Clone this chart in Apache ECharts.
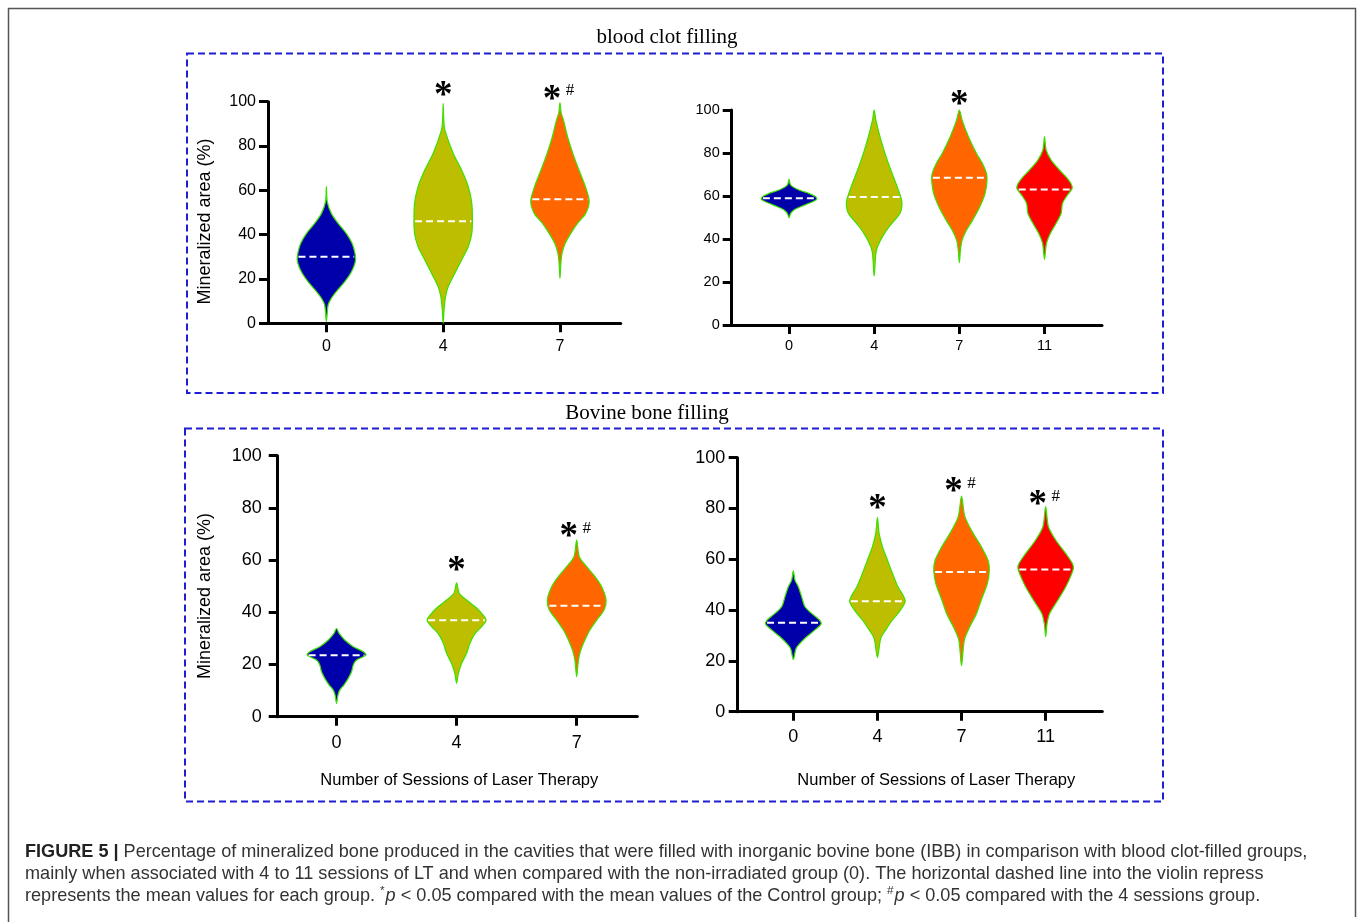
<!DOCTYPE html>
<html>
<head>
<meta charset="utf-8">
<script src="https://cdn.jsdelivr.net/npm/echarts@6/dist/echarts.min.js"></script>
<style>
html, body { margin: 0; padding: 0; background: #fff; }
#chart { width: 1358px; height: 922px; }
</style>
</head>
<body>
<div id="chart"></div>
<script>
// categories (number of laser sessions)
const catsShort = ['0', '4', '7'];
const catsLong = ['0', '4', '7', '11'];

// violin outlines: [value, relative half width], from top tip to bottom tip
const clotShortProfiles = [
    [[61.7, 0], [54.9, 0.03], [49.6, 0.17], [45.1, 0.4], [40.6, 0.68], [36.1, 0.88], [31.6, 0.98], [28.6, 1], [25.6, 0.94], [22.6, 0.83], [18.8, 0.63], [14.3, 0.34], [11.3, 0.17], [8.3, 0.06], [0.8, 0]],
    [[99.2, 0], [91.7, 0.02], [87.2, 0.06], [76.7, 0.34], [69.2, 0.63], [61.7, 0.86], [54.1, 0.98], [46.6, 1], [40.6, 0.98], [34.6, 0.86], [28.6, 0.63], [22.6, 0.4], [16.5, 0.17], [12, 0.08], [6, 0.03], [0, 0]],
    [[99.5, 0], [95, 0.04], [91.7, 0.12], [84.2, 0.26], [76.7, 0.44], [69.2, 0.65], [61.7, 0.87], [55, 1], [49.6, 0.88], [45.1, 0.6], [40.6, 0.37], [36.1, 0.18], [31.6, 0.07], [27, 0.03], [20.3, 0]]
];
const clotShortMeans = [30, 46, 56];
const clotShortMarks = ['', '*', '*#'];
const clotShortMarkY = [0, 105.3, 103.5];

const clotLongProfiles = [
    [[67.8, 0], [65.1, 0.06], [62.8, 0.36], [61.2, 0.72], [59.7, 0.96], [58.4, 1], [56.6, 0.72], [55, 0.42], [53.5, 0.18], [51.9, 0.06], [49.9, 0]],
    [[100, 0], [95.3, 0.06], [87.6, 0.21], [79.8, 0.39], [72.1, 0.6], [64.3, 0.83], [58.1, 0.99], [55, 1], [51.9, 0.93], [48.8, 0.74], [45.7, 0.54], [41.1, 0.3], [36.4, 0.12], [33.3, 0.06], [22.8, 0]],
    [[100, 0], [95.3, 0.1], [87.6, 0.33], [79.8, 0.62], [75.2, 0.83], [70.5, 0.98], [67.4, 1], [61.2, 0.93], [55, 0.74], [48.8, 0.48], [44.2, 0.26], [39.5, 0.1], [34.9, 0.04], [29, 0]],
    [[87.6, 0], [81.4, 0.06], [76.7, 0.24], [72.1, 0.54], [69, 0.77], [65.9, 0.95], [63.6, 1], [60.5, 0.83], [56.6, 0.65], [51.9, 0.6], [47.3, 0.42], [42.6, 0.21], [38, 0.07], [30.5, 0]]
];
const clotLongMeans = [59, 59.5, 68.5, 63];
const clotLongMarks = ['', '', '*', ''];
const clotLongMarkY = [0, 0, 104.7, 0];

const boneShortProfiles = [
    [[33.8, 0], [31.9, 0.09], [29.4, 0.28], [26.8, 0.57], [24.9, 0.91], [23.6, 1], [21.7, 0.68], [19.8, 0.57], [17.2, 0.51], [14.7, 0.4], [12.1, 0.25], [10.2, 0.11], [8.3, 0.05], [5.1, 0]],
    [[51.3, 0], [47.3, 0.09], [44.7, 0.34], [42.1, 0.63], [39.6, 0.85], [37, 1], [34.5, 0.85], [31.9, 0.63], [28.1, 0.45], [24.3, 0.34], [20.4, 0.17], [16.6, 0.06], [12.8, 0]],
    [[67.7, 0], [61.3, 0.09], [57.5, 0.34], [53.6, 0.63], [49.8, 0.85], [44.7, 1], [40.9, 0.93], [37, 0.68], [33.2, 0.45], [29.4, 0.28], [25.5, 0.14], [21.7, 0.06], [15.3, 0]]
];
const boneShortMeans = [23.5, 37, 42.5];
const boneShortMarks = ['', '*', '*#'];
const boneShortMarkY = [0, 58.1, 70.9];

const boneLongProfiles = [
    [[55.5, 0], [51.8, 0.06], [49.2, 0.18], [45.3, 0.3], [41.3, 0.42], [38.7, 0.66], [36.1, 0.94], [34.5, 1], [32.2, 0.78], [29.5, 0.48], [26.9, 0.24], [24.9, 0.1], [20.6, 0]],
    [[76.5, 0], [70.2, 0.06], [65, 0.18], [59.7, 0.36], [54.5, 0.54], [49.2, 0.74], [45.3, 0.95], [43.3, 1], [40, 0.83], [36.1, 0.54], [32.2, 0.3], [28.9, 0.12], [21.3, 0]],
    [[84.9, 0], [76.8, 0.12], [70.2, 0.42], [65, 0.71], [59.7, 0.95], [55.8, 1], [50.5, 0.93], [44, 0.71], [38.7, 0.54], [33.5, 0.3], [28.2, 0.1], [18.1, 0]],
    [[80.7, 0], [72.8, 0.1], [67.6, 0.36], [62.3, 0.72], [58.4, 0.96], [56.4, 1], [51.8, 0.84], [47.9, 0.66], [42.6, 0.36], [38.7, 0.14], [34.8, 0.05], [29.5, 0]]
];
const boneLongMeans = [35, 43.5, 55, 56];
const boneLongMarks = ['', '*', '*#', '*#'];
const boneLongMarkY = [0, 81.8, 88.5, 83.7];

const yTicks = [0, 20, 40, 60, 80, 100];

const captionBold = 'FIGURE 5 |';
const captionLine1 = ' Percentage of mineralized bone produced in the cavities that were filled with inorganic bovine bone (IBB) in comparison with blood clot-filled groups,';
const captionLine2 = 'mainly when associated with 4 to 11 sessions of LT and when compared with the non-irradiated group (0). The horizontal dashed line into the violin repress';
const captionLine3a = 'represents the mean values for each group. ';
const captionLine3b = ' < 0.05 compared with the mean values of the Control group; ';
const captionLine3c = ' < 0.05 compared with the 4 sessions group.';

const violinColors = ['#0000AA', '#BDBE00', '#FF6600', '#FF0000'];
const outline = '#3CE000';
const sans = '"Liberation Sans", Arial, sans-serif';
const serif = '"Liberation Serif", "Times New Roman", serif';

const panels = [
    { cats: catsShort, profiles: clotShortProfiles, means: clotShortMeans, marks: clotShortMarks, markY: clotShortMarkY,
      grid: { left: 268, top: 101.7, width: 352.7, height: 221.6 }, xMin: -0.5, xMax: 2.52, halfW: 0.25, fs: 16, yMargin: 12, xMargin: 15 },
    { cats: catsLong, profiles: clotLongProfiles, means: clotLongMeans, marks: clotLongMarks, markY: clotLongMarkY,
      grid: { left: 731.7, top: 110, width: 370.3, height: 215 }, xMin: -0.673, xMax: 3.675, halfW: 0.325, fs: 14.5, yMargin: 12, xMargin: 13 },
    { cats: catsShort, profiles: boneShortProfiles, means: boneShortMeans, marks: boneShortMarks, markY: boneShortMarkY,
      grid: { left: 277.7, top: 455.7, width: 359.6, height: 261 }, xMin: -0.49, xMax: 2.505, halfW: 0.245, fs: 18, yMargin: 16, xMargin: 17 },
    { cats: catsLong, profiles: boneLongProfiles, means: boneLongMeans, marks: boneLongMarks, markY: boneLongMarkY,
      grid: { left: 737.7, top: 457.7, width: 364.6, height: 254 }, xMin: -0.661, xMax: 3.673, halfW: 0.33, fs: 18, yMargin: 12.5, xMargin: 16 }
];

function widthAt(prof, v) {
    for (let i = 0; i < prof.length - 1; i++) {
        const a = prof[i], b = prof[i + 1];
        if (v <= a[0] && v >= b[0]) {
            const t = (a[0] - v) / (a[0] - b[0]);
            return a[1] + (b[1] - a[1]) * t;
        }
    }
    return 0;
}

function makeRender(p) {
    return function (params, api) {
        const k = api.value(0);
        const prof = p.profiles[k];
        const hw = api.size([p.halfW, 0])[0];
        const cx = api.coord([k, 0])[0];
        const right = prof.map(d => [cx + d[1] * hw, api.coord([k, d[0]])[1]]);
        const left = prof.slice(1, -1).reverse().map(d => [cx - d[1] * hw, api.coord([k, d[0]])[1]]);
        const ym = api.coord([k, p.means[k]])[1];
        const wm = widthAt(prof, p.means[k]) * hw;
        const children = [
            { type: 'polygon', shape: { points: right.concat(left), smooth: 0.3 },
              style: { fill: violinColors[k], stroke: outline, lineWidth: 1.2 } },
            { type: 'line', shape: { x1: cx - wm + 1, y1: ym, x2: cx + wm - 1, y2: ym },
              style: { stroke: '#fff', lineWidth: 2, lineDash: [7, 4] } }
        ];
        const m = p.marks[k];
        if (m) {
            const y = api.coord([k, p.markY[k]])[1];
            const starX = m === '*' ? cx : cx - 8;
            children.push({ type: 'text', style: { text: '*', x: starX, y: y + 6, align: 'center', verticalAlign: 'middle',
                font: 'bold 37px ' + serif, fill: '#000' } });
            if (m.indexOf('#') >= 0) {
                children.push({ type: 'text', style: { text: '#', x: cx + 10, y: y - 3, align: 'center', verticalAlign: 'middle',
                    font: '17px ' + serif, fill: '#000' } });
            }
        }
        return { type: 'group', children: children };
    };
}

const grids = [], xAxes = [], yAxes = [], series = [];
panels.forEach((p, i) => {
    grids.push(p.grid);
    const idx = p.cats.map((c, k) => k);
    xAxes.push({
        type: 'value', gridIndex: i, min: p.xMin, max: p.xMax,
        splitLine: { show: false },
        axisLine: { show: true, onZero: false, lineStyle: { color: '#000', width: 3 } },
        axisTick: { show: true, customValues: idx, length: 9, lineStyle: { color: '#000', width: 3 } },
        axisLabel: { customValues: idx, formatter: v => p.cats[Math.round(v)], color: '#000',
            fontSize: p.fs, fontFamily: sans, margin: p.xMargin }
    });
    yAxes.push({
        type: 'value', gridIndex: i, min: 0, max: 100, interval: 20,
        splitLine: { show: false },
        axisLine: { show: true, onZero: false, lineStyle: { color: '#000', width: 3 } },
        axisTick: { show: true, length: 9, lineStyle: { color: '#000', width: 3 } },
        axisLabel: { color: '#000', fontSize: p.fs, fontFamily: sans, margin: p.yMargin,
            formatter: v => yTicks.indexOf(v) >= 0 ? String(v) : '' }
    });
    series.push({
        type: 'custom', xAxisIndex: i, yAxisIndex: i, clip: false,
        data: p.means.map((m, k) => [k, m]),
        renderItem: makeRender(p)
    });
});

// caption font size fitted to the first line's width
const ctx = document.createElement('canvas').getContext('2d');
ctx.font = 'bold 100px ' + sans;
let capW = ctx.measureText(captionBold).width;
ctx.font = '100px ' + sans;
capW += ctx.measureText(captionLine1).width;
const capFs = Math.round(100 * 1280 / capW * 10) / 10;

const graphic = [
    { type: 'polyline', shape: { points: [[8.5, 922], [8.5, 8.5], [1355.5, 8.5], [1355.5, 917]] },
      style: { stroke: '#555', lineWidth: 1.5, fill: 'none' } },
    { type: 'rect', shape: { x: 187, y: 53.5, width: 976, height: 339.5 },
      style: { fill: 'none', stroke: '#1E1ED2', lineWidth: 2, lineDash: [7, 4] } },
    { type: 'rect', shape: { x: 185, y: 428.5, width: 978, height: 373 },
      style: { fill: 'none', stroke: '#1E1ED2', lineWidth: 2, lineDash: [7, 4] } },
    { type: 'text', x: 667, y: 37, style: { text: 'blood clot filling', align: 'center', verticalAlign: 'middle',
        font: '21px ' + serif, fill: '#000' } },
    { type: 'text', x: 647, y: 413, style: { text: 'Bovine bone filling', align: 'center', verticalAlign: 'middle',
        font: '21px ' + serif, fill: '#000' } },
    { type: 'text', x: 205, y: 221.5, rotation: Math.PI / 2, style: { text: 'Mineralized area (%)', align: 'center',
        verticalAlign: 'middle', font: '18px ' + sans, fill: '#000' } },
    { type: 'text', x: 205, y: 596, rotation: Math.PI / 2, style: { text: 'Mineralized area (%)', align: 'center',
        verticalAlign: 'middle', font: '18px ' + sans, fill: '#000' } },
    { type: 'text', x: 459.3, y: 780, style: { text: 'Number of Sessions of Laser Therapy', align: 'center',
        verticalAlign: 'middle', font: '16.5px ' + sans, fill: '#000' } },
    { type: 'text', x: 936.3, y: 780, style: { text: 'Number of Sessions of Laser Therapy', align: 'center',
        verticalAlign: 'middle', font: '16.5px ' + sans, fill: '#000' } },
    { type: 'text', x: 25, y: 841, style: {
        text: '{b|' + captionBold + '}' + captionLine1 + '\n' + captionLine2 + '\n' + captionLine3a +
              '{s|*}{i|p}' + captionLine3b + '{s|#}{i|p}' + captionLine3c,
        font: capFs + 'px ' + sans, fill: '#333', lineHeight: 22, align: 'left', verticalAlign: 'top',
        rich: {
            b: { fontWeight: 'bold', fontSize: capFs, fontFamily: sans, fill: '#222', lineHeight: 22 },
            s: { fontSize: capFs * 0.65, fontFamily: sans, fill: '#333', verticalAlign: 'top', lineHeight: 22, padding: [0, 1, 6, 0] },
            i: { fontStyle: 'italic', fontSize: capFs, fontFamily: sans, fill: '#333', lineHeight: 22 }
        } } }
];

const chart = echarts.init(document.getElementById('chart'));
chart.setOption({
    backgroundColor: '#fff',
    animation: false,
    grid: grids,
    xAxis: xAxes,
    yAxis: yAxes,
    series: series,
    graphic: graphic
});
</script>
</body>
</html>
